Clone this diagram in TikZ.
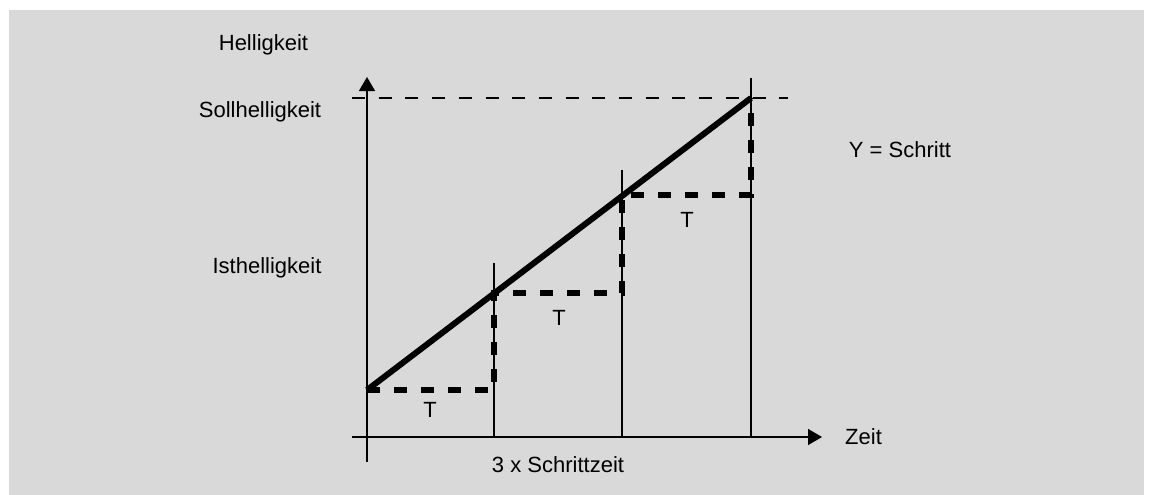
\documentclass[tikz,border=0pt]{standalone}
\usepackage{fontspec}
\setmainfont{Liberation Sans}
\usetikzlibrary{arrows.meta}
\begin{document}
\begin{tikzpicture}[x=1pt,y=-1pt,
  lbl/.style={inner sep=0pt,font=\fontsize{22}{26}\selectfont},
  axis/.style={line width=1.5pt,-{Triangle[length=14pt,width=16pt]}},
  tick/.style={line width=2pt},
  ramp/.style={line width=6pt},
  stepdash/.style={line width=5.5pt,dash pattern=on 13pt off 14pt},
  refdash/.style={line width=1.6pt,dash pattern=on 13pt off 13.7pt}]
\useasboundingbox (0,0) rectangle (1151,495);
\fill[fill={rgb,255:red,217;green,217;blue,217}] (9,10) rectangle (1144,495);
% coordinates
\coordinate (ybot) at (367,462);
\coordinate (ytop) at (367,77);
\coordinate (xl) at (352,437);
\coordinate (xr) at (822,437);
\coordinate (p0) at (367,390);
\coordinate (p1) at (494,293);
\coordinate (p2) at (622,195);
\coordinate (p3) at (751,98);
\coordinate (q1) at (494,390);
\coordinate (q2) at (622,293);
\coordinate (q3) at (751,195);
\coordinate (v1t) at (494,263);
\coordinate (v1b) at (494,437);
\coordinate (v2t) at (622,170);
\coordinate (v2b) at (622,437);
\coordinate (v3t) at (751,78);
\coordinate (v3b) at (751,437);
\coordinate (rl) at (352,98);
\coordinate (rr) at (788,98);
% axes
\draw[axis] (ybot) -- (ytop);
\draw[axis] (xl) -- (xr);
% reference dashed line
\draw[refdash] (rl) -- (rr);
% verticals
\draw[tick] (v1t) -- (v1b);
\draw[tick] (v2t) -- (v2b);
\draw[tick] (v3t) -- (v3b);
% steps
\draw[stepdash] (p0) -- (q1) -- (p1) -- (q2) -- (p2) -- (q3) -- (p3);
% ramp
\draw[ramp] (p0) -- (p3);
% labels
\node[lbl] (hel) at (263.5,45) {Helligkeit};
\node[lbl] (soll) at (260,112) {Sollhelligkeit};
\node[lbl] (ist) at (267,268) {Isthelligkeit};
\node[lbl] (ys) at (900,150) {Y = Schritt};
\node[lbl,anchor=west] (zeit) at (845,437) {Zeit};
\node[lbl] (sz) at (558,465) {3 x Schrittzeit};
\node[lbl] (t1) at (430,410) {T};
\node[lbl] (t2) at (559,318) {T};
\node[lbl] (t3) at (687,220) {T};
\end{tikzpicture}
\end{document}
